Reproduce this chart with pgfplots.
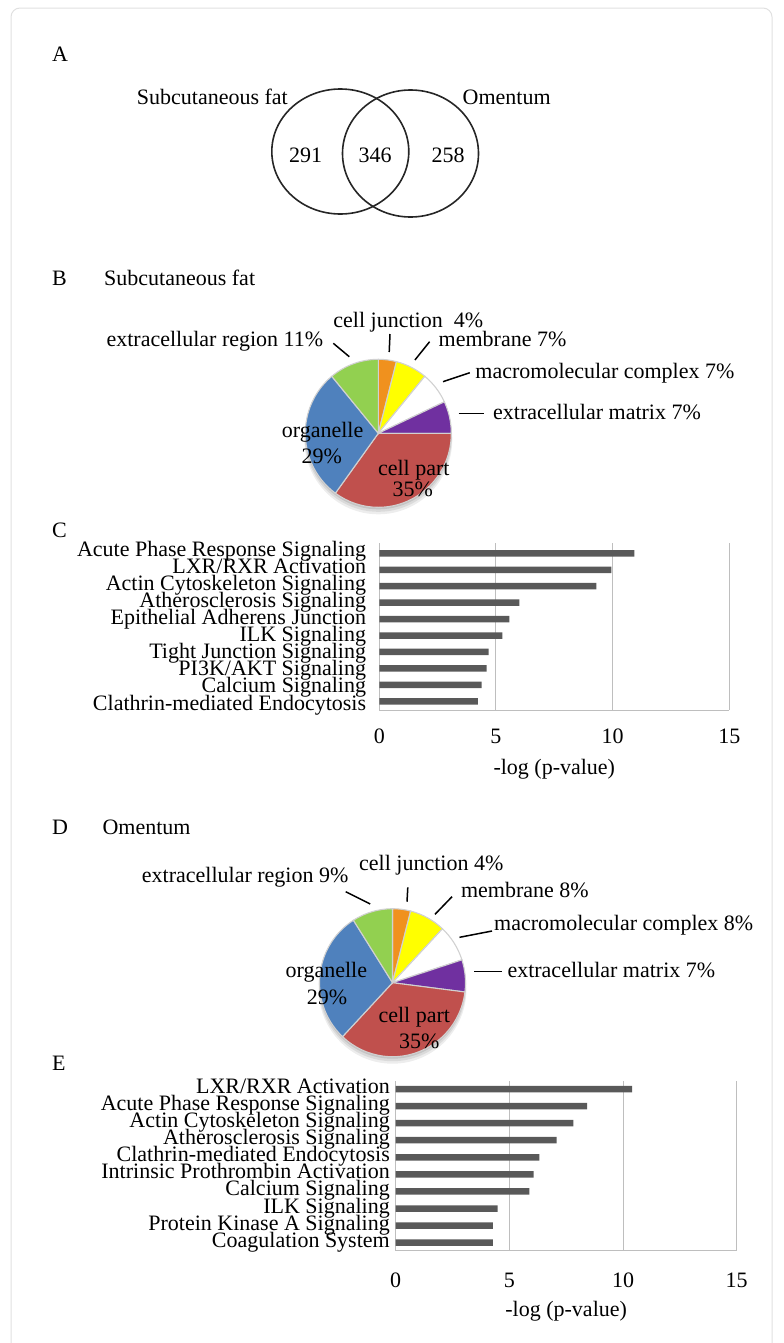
\documentclass[border=0pt]{standalone}
\usepackage{fontspec}
\setmainfont{Liberation Serif}
\usepackage{pgfplots}
\pgfplotsset{compat=1.18}
\definecolor{barc}{RGB}{89,89,89}
\definecolor{gridc}{RGB}{190,190,190}
\definecolor{pblue}{RGB}{79,129,189}
\definecolor{pred}{RGB}{192,80,77}
\definecolor{pgreen}{RGB}{146,208,80}
\definecolor{porange}{RGB}{240,145,30}
\definecolor{pyellow}{RGB}{255,255,0}
\definecolor{ppurple}{RGB}{112,48,160}
\newcommand\fs{\fontsize{22bp}{24bp}\selectfont}
\tikzset{lab/.style={font=\fs, inner sep=0pt, text=black},
  lead/.style={black, line width=1.5bp}}
% pie slice: colour, cx, cy, start percent, end percent
\newcommand\slice[5]{%
  \fill[#1, draw=white!82!black, line width=1.1bp] (axis cs:#2,#3) -- +({90-3.6*(#4)}:73bp and 74bp)
    arc[start angle={90-3.6*(#4)}, end angle={90-3.6*(#5)}, x radius=73bp, y radius=74bp] -- cycle;}
\newcommand\pieshadow[2]{%
  \fill[black, opacity=0.07] (axis cs:#1,#2-6) ellipse [x radius=74bp, y radius=75bp];
  \fill[black, opacity=0.08] (axis cs:#1,#2-4) ellipse [x radius=73.5bp, y radius=74.5bp];
  \fill[black, opacity=0.10] (axis cs:#1,#2-2) ellipse [x radius=73bp, y radius=74bp];}
\pgfplotsset{
  barstyle/.style={
    scale only axis, xmin=0, xmax=15, xtick={0,5,10,15},
    axis x line*=bottom, axis y line*=left,
    axis line style={gridc, line width=1bp, -},
    xmajorgrids, grid style={gridc, line width=1bp},
    major tick length=0pt,
    tick label style={font=\fs, inner sep=0pt},
    x tick label style={anchor=center},
    y tick label style={anchor=base east},
    /pgf/number format/assume math mode=true,
    xlabel={-log (p-value)},
    xlabel style={font=\fs, inner sep=0pt, at={(axis description cs:0.5,0)}, anchor=base},
  }
}
\begin{document}
\begin{tikzpicture}
\path[use as bounding box] (0,0) rectangle (784bp,-1343bp);
\begin{axis}[at={(0,0)}, anchor=north west, scale only axis, width=784bp, height=1343bp,
  xmin=0, xmax=784, ymin=-1343, ymax=0, hide axis, clip=false]
% card
\draw[black!12, line width=1bp, rounded corners=9bp] (axis cs:11,-1400) -- (axis cs:11,-8) -- (axis cs:772,-8) -- (axis cs:772,-1400);
% ---------- A : Venn
\node[lab, anchor=base west] at (axis cs:52,-61.7) {A};
\node[lab, anchor=base west] at (axis cs:136.7,-104) {Subcutaneous fat};
\node[lab, anchor=base west] at (axis cs:462.5,-104) {Omentum};
\draw[black!85, line width=1.6bp] (axis cs:340.3,-151.5) ellipse [x radius=68.5bp, y radius=62.5bp];
\draw[black!85, line width=1.6bp] (axis cs:410.5,-153.5) ellipse [x radius=68bp, y radius=63.5bp];
\node[lab, anchor=base] at (axis cs:305.5,-162.7) {291};
\node[lab, anchor=base] at (axis cs:375,-162.7) {346};
\node[lab, anchor=base] at (axis cs:448,-162.7) {258};
% ---------- B : pie subcutaneous
\node[lab, anchor=base west] at (axis cs:52,-285) {B};
\node[lab, anchor=base west] at (axis cs:104,-285) {Subcutaneous fat};
\pieshadow{378.3}{-433.3}
\slice{porange}{378.3}{-433.3}{0}{4}
\slice{pyellow}{378.3}{-433.3}{4}{11}
\slice{white}{378.3}{-433.3}{11}{18}
\slice{ppurple}{378.3}{-433.3}{18}{25}
\slice{pred}{378.3}{-433.3}{25}{60}
\slice{pblue}{378.3}{-433.3}{60}{89}
\slice{pgreen}{378.3}{-433.3}{89}{100}
\node[lab, anchor=base east] at (axis cs:323.4,-346) {extracellular region 11\%};
\node[lab, anchor=base west] at (axis cs:333.2,-327) {cell junction\ \ 4\%};
\node[lab, anchor=base west] at (axis cs:438.5,-346) {membrane 7\%};
\node[lab, anchor=base west] at (axis cs:475.2,-378) {macromolecular complex 7\%};
\node[lab, anchor=base west] at (axis cs:493,-419.5) {extracellular matrix 7\%};
\node[lab, anchor=base west] at (axis cs:281.7,-437) {organelle};
\node[lab, anchor=base] at (axis cs:321.7,-463) {29\%};
\node[lab, anchor=base west] at (axis cs:377.8,-475) {cell part};
\node[lab, anchor=base] at (axis cs:412.7,-496) {35\%};
\draw[lead] (axis cs:333.3,-343.3) -- (axis cs:349.3,-356.7);
\draw[lead] (axis cs:390,-334) -- (axis cs:389.2,-352);
\draw[lead] (axis cs:429.6,-341.7) -- (axis cs:414.9,-360);
\draw[lead] (axis cs:469.8,-372.7) -- (axis cs:443,-381.7);
\draw[lead] (axis cs:458.6,-413.3) -- (axis cs:484,-413.3);
% C letter
\node[lab, anchor=base west] at (axis cs:52,-537.5) {C};
% ---------- D : pie omentum
\node[lab, anchor=base west] at (axis cs:52,-834) {D};
\node[lab, anchor=base west] at (axis cs:102.4,-834) {Omentum};
\pieshadow{392.5}{-982.7}
\slice{porange}{392.5}{-982.7}{0}{4}
\slice{pyellow}{392.5}{-982.7}{4}{12}
\slice{white}{392.5}{-982.7}{12}{20}
\slice{ppurple}{392.5}{-982.7}{20}{27}
\slice{pred}{392.5}{-982.7}{27}{62}
\slice{pblue}{392.5}{-982.7}{62}{91}
\slice{pgreen}{392.5}{-982.7}{91}{100}
\node[lab, anchor=base west] at (axis cs:141.7,-882) {extracellular region 9\%};
\node[lab, anchor=base west] at (axis cs:359,-870) {cell junction 4\%};
\node[lab, anchor=base west] at (axis cs:460.9,-897) {membrane 8\%};
\node[lab, anchor=base west] at (axis cs:494,-930) {macromolecular complex 8\%};
\node[lab, anchor=base west] at (axis cs:507.3,-977) {extracellular matrix 7\%};
\node[lab, anchor=base west] at (axis cs:285.4,-977) {organelle};
\node[lab, anchor=base] at (axis cs:327,-1004.5) {29\%};
\node[lab, anchor=base west] at (axis cs:378.3,-1022) {cell part};
\node[lab, anchor=base] at (axis cs:419.4,-1048) {35\%};
\draw[lead] (axis cs:345.7,-891.7) -- (axis cs:370.2,-904);
\draw[lead] (axis cs:407.8,-887.3) -- (axis cs:407,-901.7);
\draw[lead] (axis cs:452,-896.7) -- (axis cs:435,-914.3);
\draw[lead] (axis cs:492,-931) -- (axis cs:459.5,-937.3);
\draw[lead] (axis cs:474,-971.7) -- (axis cs:502,-971.7);
% E letter
\node[lab, anchor=base west] at (axis cs:52,-1070) {E};
\end{axis}
% ---------- C : bar chart subcutaneous
\begin{axis}[barstyle, at={(379.3bp,-710bp)}, anchor=south west, width=350bp, height=166.7bp,
  ymin=0.47, ymax=10.61,
  ytick={0.470,1.506,2.542,3.578,4.614,5.650,6.686,7.721,8.757,9.793},
  yticklabels={Clathrin-mediated Endocytosis, Calcium Signaling, PI3K/AKT Signaling, Tight Junction Signaling, ILK Signaling, Epithelial Adherens Junction, Atherosclerosis Signaling, Actin Cytoskeleton Signaling, LXR/RXR Activation, Acute Phase Response Signaling},
  y tick label style={xshift=-13bp},
  x tick label style={yshift=-26.7bp},
  xlabel style={yshift=-64bp}]
\addplot[xbar, draw=none, fill=barc, bar width=6.5bp] coordinates {
(4.22,1) (4.39,2) (4.60,3) (4.69,4) (5.27,5) (5.57,6) (6.00,7) (9.30,8) (9.95,9) (10.93,10)};
\end{axis}
% ---------- E : bar chart omentum
\begin{axis}[barstyle, at={(395.7bp,-1250.7bp)}, anchor=south west, width=341bp, height=170bp,
  ymin=0.532, ymax=10.486, ytick={1,...,10},
  yticklabels={Coagulation System, Protein Kinase A Signaling, ILK Signaling, Calcium Signaling, Intrinsic Prothrombin Activation, Clathrin-mediated Endocytosis, Atherosclerosis Signaling, Actin Cytoskeleton Signaling, Acute Phase Response Signaling, LXR/RXR Activation},
  y tick label style={xshift=-5.7bp, yshift=-4.5bp},
  x tick label style={yshift=-29.3bp},
  xlabel style={yshift=-65.3bp}]
\addplot[xbar, draw=none, fill=barc, bar width=6.5bp] coordinates {
(4.27,1) (4.27,2) (4.48,3) (5.88,4) (6.07,5) (6.32,6) (7.08,7) (7.81,8) (8.42,9) (10.40,10)};
\end{axis}
\end{tikzpicture}
\end{document}
